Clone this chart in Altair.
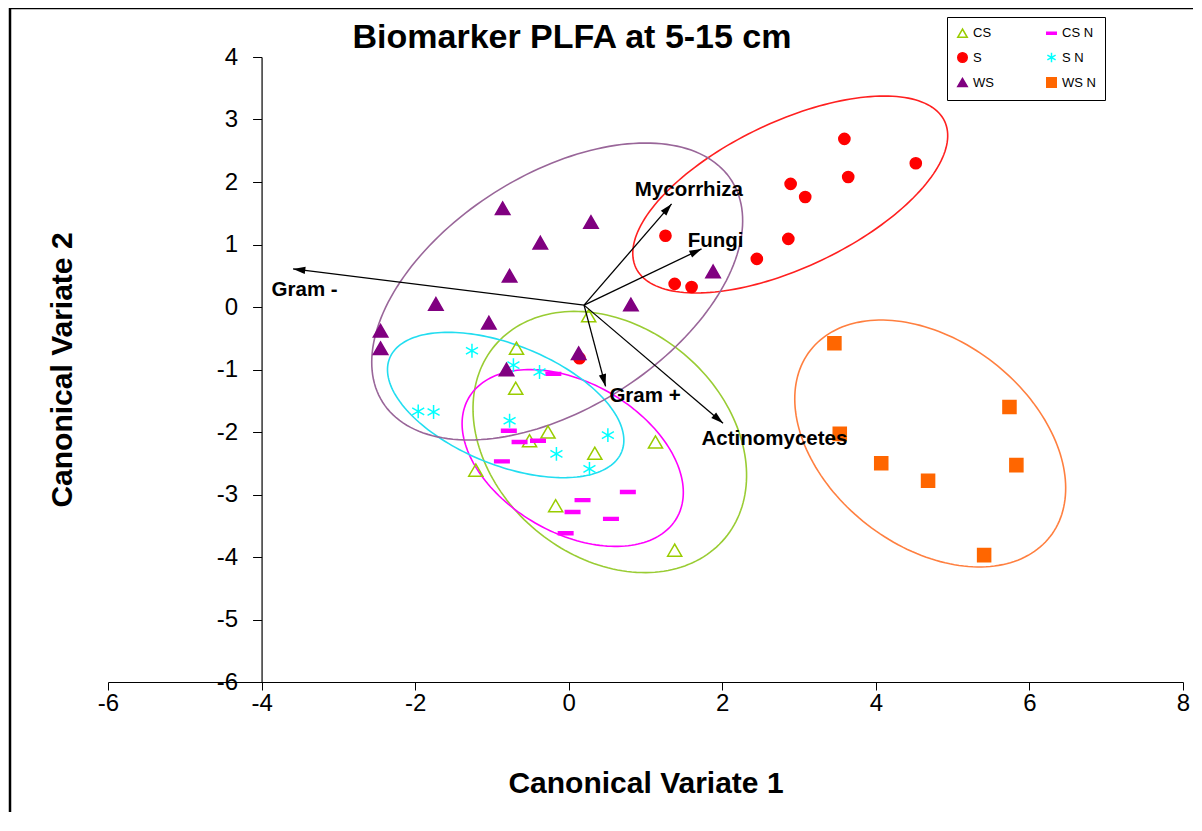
import altair as alt
import pandas as pd
import numpy as np

# ---------------- data ----------------
groups = ["CS", "CS N", "S", "S N", "WS", "WS N"]
legend_order = ["CS", "S", "WS", "CS N", "S N", "WS N"]

cs_x = [0.26, -0.68, -0.69, -0.51, -0.27, -1.21, 0.34, 1.13, -0.17, 1.38]
cs_y = [-0.14, -0.66, -1.30, -2.14, -2.00, -2.61, -2.34, -2.16, -3.18, -3.89]
csn_x = [-0.20, -0.78, -0.64, -0.40, -0.87, 0.18, 0.05, 0.55, 0.77, -0.04]
csn_y = [-1.07, -1.98, -2.16, -2.14, -2.47, -3.09, -3.28, -3.39, -2.96, -3.62]
s_x = [3.59, 4.52, 2.89, 3.64, 3.08, 1.26, 2.86, 2.45, 1.38, 1.60, 0.14]
s_y = [2.69, 2.30, 1.97, 2.08, 1.76, 1.14, 1.09, 0.77, 0.37, 0.32, -0.82]
sn_x = [-1.26, -1.96, -1.76, -0.72, -0.38, -0.77, -0.16, 0.51, 0.27]
sn_y = [-0.70, -1.67, -1.68, -0.93, -1.04, -1.82, -2.35, -2.05, -2.59]
ws_x = [-0.86, 0.29, -0.37, -0.77, -1.73, -1.04, -2.45, -2.45, 0.81, 1.88, 0.13, -0.81]
ws_y = [1.58, 1.36, 1.03, 0.50, 0.05, -0.25, -0.38, -0.66, 0.04, 0.57, -0.74, -1.00]
wsn_x = [3.46, 3.53, 4.07, 4.68, 5.74, 5.83, 5.41]
wsn_y = [-0.58, -2.03, -2.50, -2.78, -1.60, -2.53, -3.97]

# ellipses: centre and two conjugate semi-diameters (data units)
ell_group = ["CS", "CS N", "S", "S N", "WS", "WS N"]
ell_cx = [0.535, 0.052, 2.885, -0.821, -0.150, 4.708]
ell_cy = [-2.16, -2.416, 1.80, -1.568, 0.248, -2.184]
ell_ux = [1.498, 1.355, 2.010, 1.511, 2.273, 1.562]
ell_uy = [-1.542, -0.96, 1.173, -0.749, 1.772, -1.489]
ell_vx = [0.964, 0.489, -0.407, 0.293, -0.817, 0.820]
ell_vy = [1.410, 1.039, 1.052, 0.890, 1.582, 1.298]

# biplot vectors
vec_name = ["Gram -", "Mycorrhiza", "Fungi", "Gram +", "Actinomycetes"]
vec_x0 = 0.2
vec_y0 = 0.03
vec_x = [-3.59, 1.34, 1.73, 0.48, 2.01]
vec_y = [0.61, 1.65, 0.93, -1.27, -1.86]
lab_x = [-3.87, 0.86, 1.55, 0.53, 1.73]
lab_y = [0.27, 1.87, 1.06, -1.42, -2.11]

x_ticks = [-6, -4, -2, 0, 2, 4, 6, 8]
y_ticks = [-6, -5, -4, -3, -2, -1, 0, 1, 2, 3, 4]
title_text = "Biomarker PLFA at 5-15 cm"

# ---------------- styles ----------------
W, H = 1075, 625
XD, YD = [-6, 8], [-6, 4]
FONT = "Liberation Sans"
stroke_col = {"CS": "#99CC00", "CS N": "#FF00FF", "S": "#FF0000",
              "S N": "#00FFFF", "WS": "#800080", "WS N": "#FF6600"}
fill_col = {"CS": "transparent", "CS N": "#FF00FF", "S": "#FF0000",
            "S N": "transparent", "WS": "#800080", "WS N": "#FF6600"}
asterisk = "M0,-1V1M-0.87,-0.5L0.87,0.5M-0.87,0.5L0.87,-0.5"
dash = "M-1,-0.2H1V0.2H-1Z"
shape_of = {"CS": "triangle-up", "CS N": dash, "S": "circle",
            "S N": asterisk, "WS": "triangle-up", "WS N": "square"}
size_of = {"CS": 200, "CS N": 210, "S": 125, "S N": 190, "WS": 210, "WS N": 170}
ell_col = {"CS": "#99CC33", "CS N": "#FF00FF", "S": "#FF2020",
           "S N": "#22DDF0", "WS": "#996699", "WS N": "#FF7F3F"}

# ---------------- tables ----------------
series = {"CS": (cs_x, cs_y), "CS N": (csn_x, csn_y), "S": (s_x, s_y),
          "S N": (sn_x, sn_y), "WS": (ws_x, ws_y), "WS N": (wsn_x, wsn_y)}
rows = []
for gi, g in enumerate(groups):
    xs, ys = series[g]
    for x, y in zip(xs, ys):
        rows.append({"group": g, "x": x, "y": y, "sz": size_of[g], "ord": gi})
pts = pd.DataFrame(rows)

t = np.linspace(0, 2 * np.pi, 181)
erows = []
for i, g in enumerate(ell_group):
    ex = ell_cx[i] + ell_ux[i] * np.cos(t) + ell_vx[i] * np.sin(t)
    ey = ell_cy[i] + ell_uy[i] * np.cos(t) + ell_vy[i] * np.sin(t)
    for k in range(len(t)):
        erows.append({"eg": g, "k": k, "x": ex[k], "y": ey[k], "col": ell_col[g]})
ell = pd.DataFrame(erows)

kx = W / (XD[1] - XD[0])
ky = H / (YD[1] - YD[0])
vec = pd.DataFrame({"name": vec_name, "x0": vec_x0, "y0": vec_y0,
                    "x1": vec_x, "y1": vec_y, "lx": lab_x, "ly": lab_y})
vec["ang"] = (np.degrees(np.arctan2((vec["x1"] - vec["x0"]) * kx,
                                    (vec["y1"] - vec["y0"]) * ky)) + 360) % 360

xs_ = alt.Scale(domain=XD, nice=False, zero=False)
ys_ = alt.Scale(domain=YD, nice=False, zero=False)

x_axis = alt.Axis(values=x_ticks, grid=False, tickSize=8, tickColor="black", tickWidth=1,
                  domainColor="black", domainWidth=1.2, labelFont=FONT, labelFontSize=24,
                  labelColor="black", labelPadding=1, labelFlush=False,
                  labelExpr="datum.value + ''",
                  title="Canonical Variate 1", titleFont=FONT, titleFontSize=30,
                  titleFontWeight="bold", titleColor="black", titleY=101,
                  titleBaseline="middle")
y_axis = alt.Axis(values=y_ticks, grid=False, tickSize=9, tickColor="black", tickWidth=1,
                  domainColor="black", domainWidth=1.2, labelFont=FONT, labelFontSize=24,
                  labelColor="black", labelPadding=15, labelFlush=False, offset=-2 * kx,
                  labelExpr="datum.value + ''",
                  title="Canonical Variate 2", titleFont=FONT, titleFontSize=30,
                  titleFontWeight="bold", titleColor="black", titleX=-199, titleY=H / 2,
                  titleAngle=270, titleBaseline="middle", titleAlign="center")


def X(field):
    return alt.X(field, scale=xs_, axis=x_axis)


def Y(field):
    return alt.Y(field, scale=ys_, axis=y_axis)


ellipses = alt.Chart(ell).mark_line(strokeWidth=1.6).encode(
    x=X("x:Q"), y=Y("y:Q"),
    detail="eg:N",
    order=alt.Order("k:Q"),
    color=alt.Color("col:N", scale=None),
)

legend = alt.Legend(title=None, orient="none", legendX=839, legendY=-40, columns=2,
                    strokeColor="black", fillColor="white", padding=9,
                    labelFont=FONT, labelFontSize=13, labelColor="black",
                    rowPadding=8, columnPadding=36, symbolSize=90,
                    symbolStrokeWidth=1.5, gridAlign="all")

points = alt.Chart(pts).mark_point(filled=True, strokeWidth=1.5, opacity=1).encode(
    x=X("x:Q"), y=Y("y:Q"),
    shape=alt.Shape("group:N", scale=alt.Scale(domain=legend_order, range=[shape_of[g] for g in legend_order]), legend=legend),
    fill=alt.Fill("group:N", scale=alt.Scale(domain=legend_order, range=[fill_col[g] for g in legend_order]), legend=legend),
    stroke=alt.Stroke("group:N", scale=alt.Scale(domain=legend_order, range=[stroke_col[g] for g in legend_order]), legend=legend),
    size=alt.Size("sz:Q", scale=None),
    order=alt.Order("ord:Q"),
)

shafts = alt.Chart(vec).mark_rule(color="black", strokeWidth=1.3).encode(
    x=X("x0:Q"), y=Y("y0:Q"),
    x2="x1:Q", y2="y1:Q",
)
heads = alt.Chart(vec).mark_point(shape="M0,0L0.6,2L-0.6,2Z", filled=True, color="black",
                                  size=150, opacity=1).encode(
    x=X("x1:Q"), y=Y("y1:Q"),
    angle=alt.Angle("ang:Q", scale=None),
)
labels = alt.Chart(vec).mark_text(font=FONT, fontSize=20.5, fontWeight="bold", align="left",
                                  baseline="middle", color="black").encode(
    x=X("lx:Q"), y=Y("ly:Q"),
    text="name:N",
)

title = alt.Chart(pd.DataFrame({"t": [title_text]})).mark_text(
    font=FONT, fontSize=34, fontWeight="bold", align="center", baseline="middle",
    color="black").encode(text="t:N", x=alt.value(464), y=alt.value(-19))

border = alt.Chart(pd.DataFrame({"a": [0]})).mark_rect(
    fill="transparent", stroke="black", strokeWidth=2.5).encode(
    x=alt.value(-98), x2=alt.value(1200), y=alt.value(-49), y2=alt.value(900))

chart = alt.layer(ellipses, points, shafts, heads, labels, title, border).properties(
    width=W, height=H,
    autosize=alt.AutoSizeParams(type="none"),
    padding={"left": 100, "top": 49, "right": 10, "bottom": 130},
).configure_view(strokeWidth=0)

chart.save("out.html", embed_options={"renderer": "svg", "actions": False})
